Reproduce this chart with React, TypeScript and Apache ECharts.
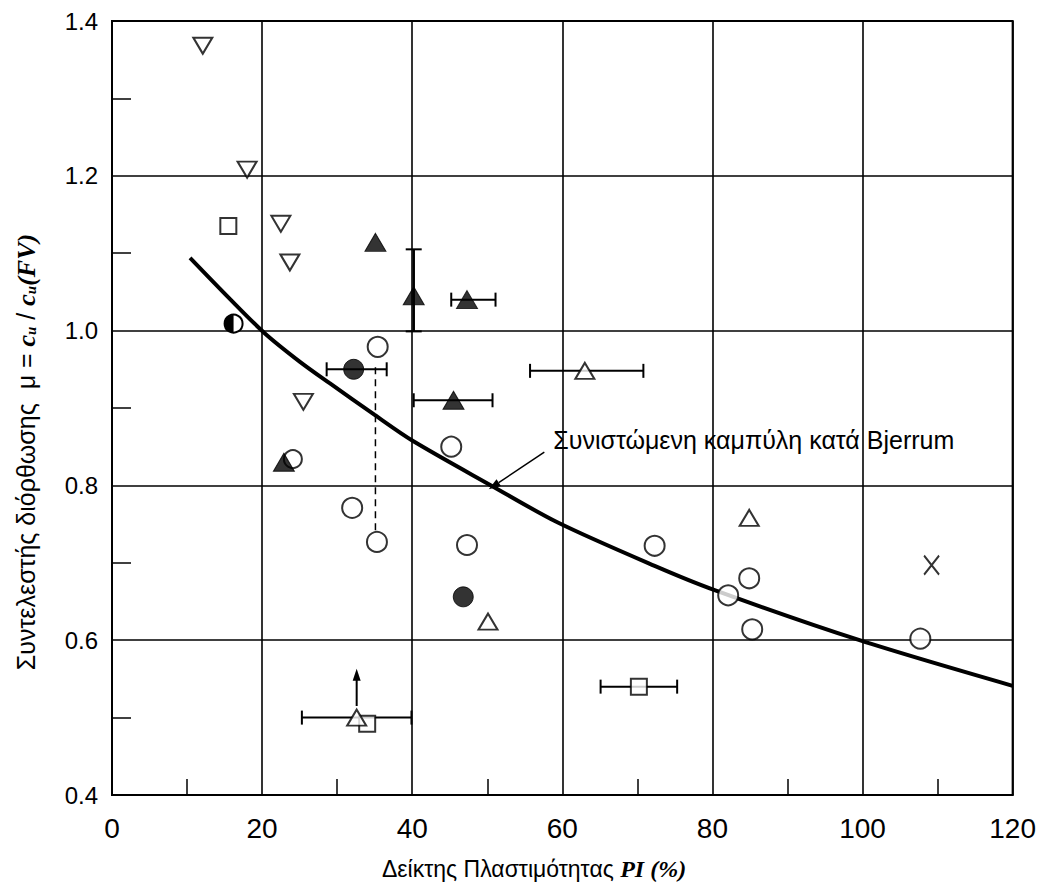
import React, { useEffect, useRef } from "react";
import * as echarts from "echarts";

// ---- data ----
const xTickValues = [0, 20, 40, 60, 80, 100, 120];
const yTickValues = [0.4, 0.6, 0.8, 1.0, 1.2, 1.4];

const openCircles: number[][] = [
  [35.4, 0.979], [45.2, 0.85], [32.0, 0.771], [35.3, 0.727], [47.3, 0.723],
  [72.3, 0.722], [84.9, 0.68], [82.1, 0.658], [85.3, 0.614], [107.7, 0.602],
];
const mixedCircle: number[][] = [[24.1, 0.834]];
const filledCircles: number[][] = [[32.2, 0.95], [46.8, 0.656]];
const halfCircles: number[][] = [[16.2, 1.009]];
const openTrianglesUp: number[][] = [[63.0, 0.948], [84.9, 0.758], [50.1, 0.624], [32.6, 0.5]];
const filledTrianglesUp: number[][] = [[35.1, 1.114], [40.2, 1.045], [47.3, 1.04], [45.5, 0.91], [22.9, 0.83]];
const openTrianglesDown: number[][] = [[12.1, 1.368], [18.0, 1.208], [22.5, 1.138], [23.7, 1.088], [25.5, 0.908]];
const openSquares: number[][] = [[15.5, 1.135], [70.2, 0.54], [34.0, 0.492]];
const crosses: number[][] = [[109.2, 0.697]];

// horizontal error bars: [xLow, y, xHigh]
const hErrorBars: number[][] = [
  [28.6, 0.95, 36.6], [45.2, 1.04, 51.1], [40.2, 0.91, 50.7],
  [55.7, 0.948, 70.8], [65.1, 0.54, 75.3], [25.3, 0.5, 39.9],
];
// vertical error bars: [x, yLow, yHigh]
const vErrorBars: number[][] = [[40.2, 0.999, 1.105]];
// dashed connector: [x, yLow, yHigh]
const dashedLinks: number[][] = [[35.1, 0.742, 0.958]];
// upward arrow: [x, yFrom, yTo]
const upArrows: number[][] = [[32.6, 0.515, 0.563]];

// Bjerrum recommended curve
const bjerrumCurve: number[][] = [
  [10.4, 1.094], [15.6, 1.042], [20.3, 0.997], [25.0, 0.96], [29.0, 0.932],
  [35.0, 0.891], [40.0, 0.858], [50.5, 0.8], [59.4, 0.752], [72.3, 0.696],
  [80.2, 0.665], [99.6, 0.6], [120, 0.541],
];
const curveLabel = "Συνιστώμενη καμπύλη κατά Bjerrum";
const curveLabelAnchor: number[] = [58.8, 0.859];
// annotation arrow: [xFrom, yFrom, xTo, yTo]
const annotationArrow: number[] = [57.6, 0.843, 50.2, 0.795];

const xTitle = "Δείκτης Πλαστιμότητας ";
const xTitleItalic = "PI (%)";
const yTitleStart = "Συντελεστής διόρθωσης  μ = ";

const BLACK = "#000";
const tickFont = "'Liberation Sans Narrow', 'Arial Narrow', 'Liberation Sans', Arial, sans-serif";
const textFont = "'Liberation Sans', Arial, Roboto, sans-serif";
const serifFont = "'Liberation Serif', 'DejaVu Serif', serif";

export default function App() {
  const ref = useRef<HTMLDivElement>(null);

  useEffect(() => {
    if (!ref.current) return;
    const chart = echarts.init(ref.current, null, { renderer: "svg" });

    const lineStyle = { stroke: BLACK, lineWidth: 2 };

    const option: any = {
      animation: false,
      backgroundColor: "#fff",
      grid: {
        left: 112, right: 23, top: 21, bottom: 95,
        show: true, borderColor: BLACK, borderWidth: 2, backgroundColor: "transparent",
      },
      xAxis: {
        type: "value", min: 0, max: 120, interval: 20,
        axisLine: { show: true, lineStyle: { color: BLACK, width: 2 } },
        axisTick: { show: true, inside: true, length: 0 },
        minorTick: { show: true, splitNumber: 2, length: 16, lineStyle: { color: BLACK, width: 1.5 } },
        splitLine: { show: true, lineStyle: { color: BLACK, width: 1.6 } },
        axisLabel: {
          color: BLACK, fontSize: 28, fontFamily: tickFont, margin: 19,
          formatter: (v: number) => (xTickValues.includes(v) ? String(v) : ""),
        },
      },
      yAxis: {
        type: "value", min: 0.4, max: 1.4, interval: 0.2,
        axisLine: { show: true, lineStyle: { color: BLACK, width: 2 } },
        axisTick: { show: true, inside: true, length: 0 },
        minorTick: { show: true, splitNumber: 2, length: 19, lineStyle: { color: BLACK, width: 1.5 } },
        splitLine: { show: true, lineStyle: { color: BLACK, width: 1.6 } },
        axisLabel: {
          color: BLACK, fontSize: 24, fontFamily: textFont, margin: 14,
          formatter: (v: number) => {
            const hit = yTickValues.find((t) => Math.abs(t - v) < 1e-6);
            return hit === undefined ? "" : hit.toFixed(1);
          },
        },
      },
      graphic: [
        {
          type: "text", left: 382, top: 857,
          style: {
            text: `{a|${xTitle}}{b|${xTitleItalic}}`,
            rich: {
              a: { fontSize: 23, fontFamily: textFont, fill: BLACK },
              b: { fontSize: 24, fontFamily: serifFont, fontStyle: "italic", fontWeight: "bold", fill: BLACK },
            },
          },
        },
        {
          type: "text", x: 26, y: 452, rotation: Math.PI / 2,
          style: {
            text: `{a|${yTitleStart}}{i|c}{s|u}{a| / }{i|c}{s|u}{i|(FV)}`,
            align: "center", verticalAlign: "middle",
            rich: {
              a: { fontSize: 25, fontFamily: textFont, fill: BLACK },
              i: { fontSize: 26, fontFamily: serifFont, fontStyle: "italic", fontWeight: "bold", fill: BLACK },
              s: { fontSize: 15, fontFamily: serifFont, fontStyle: "italic", fontWeight: "bold", fill: BLACK, padding: [10, 0, 0, 0] },
            },
          },
        },
      ],
      series: [
        // horizontal error bars
        {
          type: "custom", z: 2, data: hErrorBars, encode: { x: [0, 2], y: 1 },
          renderItem: (_p: any, api: any) => {
            const lo = api.coord([api.value(0), api.value(1)]);
            const hi = api.coord([api.value(2), api.value(1)]);
            const c = 7;
            return {
              type: "group",
              children: [
                { type: "line", shape: { x1: lo[0], y1: lo[1], x2: hi[0], y2: hi[1] }, style: lineStyle },
                { type: "line", shape: { x1: lo[0], y1: lo[1] - c, x2: lo[0], y2: lo[1] + c }, style: lineStyle },
                { type: "line", shape: { x1: hi[0], y1: hi[1] - c, x2: hi[0], y2: hi[1] + c }, style: lineStyle },
              ],
            };
          },
        },
        // vertical error bars
        {
          type: "custom", z: 2, data: vErrorBars, encode: { x: 0, y: [1, 2] },
          renderItem: (_p: any, api: any) => {
            const lo = api.coord([api.value(0), api.value(1)]);
            const hi = api.coord([api.value(0), api.value(2)]);
            const c = 8;
            return {
              type: "group",
              children: [
                { type: "line", shape: { x1: lo[0], y1: lo[1], x2: hi[0], y2: hi[1] }, style: { stroke: BLACK, lineWidth: 2.5 } },
                { type: "line", shape: { x1: lo[0] - c, y1: lo[1], x2: lo[0] + c, y2: lo[1] }, style: lineStyle },
                { type: "line", shape: { x1: hi[0] - c, y1: hi[1], x2: hi[0] + c, y2: hi[1] }, style: lineStyle },
              ],
            };
          },
        },
        // dashed connector
        {
          type: "custom", z: 2, data: dashedLinks, encode: { x: 0, y: [1, 2] },
          renderItem: (_p: any, api: any) => {
            const lo = api.coord([api.value(0), api.value(1)]);
            const hi = api.coord([api.value(0), api.value(2)]);
            return {
              type: "line", shape: { x1: lo[0], y1: lo[1], x2: hi[0], y2: hi[1] },
              style: { stroke: BLACK, lineWidth: 1.5, lineDash: [7, 5] },
            };
          },
        },
        // upward arrow
        {
          type: "custom", z: 2, data: upArrows, encode: { x: 0, y: [1, 2] },
          renderItem: (_p: any, api: any) => {
            const a = api.coord([api.value(0), api.value(1)]);
            const b = api.coord([api.value(0), api.value(2)]);
            return {
              type: "group",
              children: [
                { type: "line", shape: { x1: a[0], y1: a[1], x2: b[0], y2: b[1] + 8 }, style: lineStyle },
                { type: "polygon", shape: { points: [[b[0], b[1]], [b[0] - 4, b[1] + 12], [b[0] + 4, b[1] + 12]] }, style: { fill: BLACK } },
              ],
            };
          },
        },
        // Bjerrum curve
        {
          type: "line", z: 3, data: bjerrumCurve, smooth: 0.3, showSymbol: false, symbol: "none",
          lineStyle: { color: BLACK, width: 4 }, silent: true,
        },
        // annotation text + arrow
        {
          type: "custom", z: 4, data: [annotationArrow], encode: { x: [0, 2], y: [1, 3] },
          renderItem: (_p: any, api: any) => {
            const a = api.coord([api.value(0), api.value(1)]);
            const b = api.coord([api.value(2), api.value(3)]);
            const t = api.coord(curveLabelAnchor);
            const dx = b[0] - a[0], dy = b[1] - a[1];
            const len = Math.sqrt(dx * dx + dy * dy);
            const ux = dx / len, uy = dy / len;
            const hl = 12, hw = 4;
            const bx = b[0] - ux * hl, by = b[1] - uy * hl;
            return {
              type: "group",
              children: [
                { type: "line", shape: { x1: a[0], y1: a[1], x2: bx, y2: by }, style: { stroke: BLACK, lineWidth: 1.5 } },
                {
                  type: "polygon",
                  shape: { points: [[b[0], b[1]], [bx - uy * hw, by + ux * hw], [bx + uy * hw, by - ux * hw]] },
                  style: { fill: BLACK },
                },
                {
                  type: "text", x: t[0], y: t[1],
                  style: { text: curveLabel, fontSize: 25, fontFamily: textFont, fill: BLACK, verticalAlign: "middle", align: "left" },
                },
              ],
            };
          },
        },
        // open squares
        {
          type: "scatter", z: 5, data: openSquares, symbol: "rect", symbolSize: 16,
          itemStyle: { color: "#fff", borderColor: BLACK, borderWidth: 2 },
        },
        // open circle under the mixed marker
        {
          type: "scatter", z: 5, data: mixedCircle, symbol: "circle", symbolSize: 18,
          itemStyle: { color: "#fff", borderColor: BLACK, borderWidth: 2 },
        },
        // open circles
        {
          type: "scatter", z: 6, data: openCircles, symbol: "circle", symbolSize: 20,
          itemStyle: { color: "#fff", borderColor: BLACK, borderWidth: 2 },
        },
        // filled circles
        {
          type: "scatter", z: 6, data: filledCircles, symbol: "circle", symbolSize: 20,
          itemStyle: { color: BLACK, borderColor: BLACK, borderWidth: 1 },
        },
        // half-filled circle
        {
          type: "custom", z: 6, data: halfCircles,
          renderItem: (_p: any, api: any) => {
            const c = api.coord([api.value(0), api.value(1)]);
            const r = 9;
            return {
              type: "group",
              children: [
                { type: "circle", shape: { cx: c[0], cy: c[1], r }, style: { fill: "#fff", stroke: BLACK, lineWidth: 2 } },
                { type: "sector", shape: { cx: c[0], cy: c[1], r0: 0, r, startAngle: Math.PI / 2, endAngle: (3 * Math.PI) / 2 }, style: { fill: BLACK } },
              ],
            };
          },
        },
        // open triangles (up)
        {
          type: "scatter", z: 7, data: openTrianglesUp, symbol: "triangle", symbolSize: [19, 16],
          itemStyle: { color: "#fff", borderColor: BLACK, borderWidth: 2 },
        },
        // filled triangles (up)
        {
          type: "scatter", z: 7, data: filledTrianglesUp, symbol: "triangle", symbolSize: [21, 18],
          itemStyle: { color: BLACK, borderColor: BLACK, borderWidth: 1 },
        },
        // open triangles (down)
        {
          type: "scatter", z: 7, data: openTrianglesDown, symbol: "triangle", symbolRotate: 180, symbolSize: [19, 16],
          itemStyle: { color: "#fff", borderColor: BLACK, borderWidth: 2 },
        },
        // cross
        {
          type: "scatter", z: 7, data: crosses, symbol: "path://M0,0 L14,18 M14,0 L0,18", symbolSize: [15, 19],
          itemStyle: { color: "none", borderColor: BLACK, borderWidth: 2 },
        },
      ],
    };

    chart.setOption(option);
    return () => chart.dispose();
  }, []);

  return <div ref={ref} style={{ width: 1039, height: 890, position: "absolute", left: 0, top: 0 }} />;
}
